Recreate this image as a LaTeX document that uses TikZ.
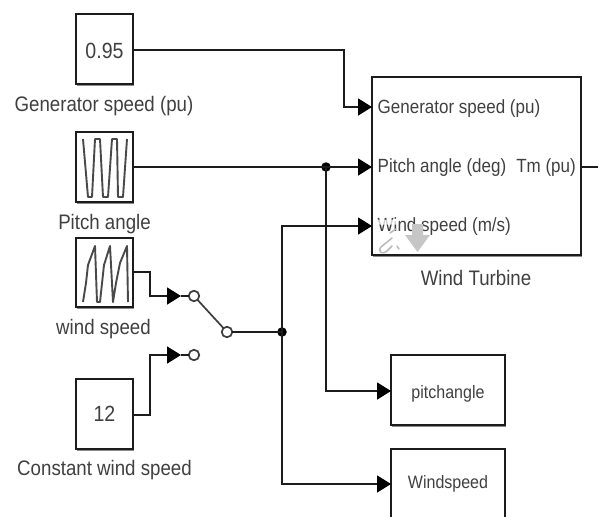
\documentclass[tikz,border=0pt]{standalone}
\usepackage{fontspec}
\setmainfont[FakeStretch=0.89]{Liberation Sans}
\usetikzlibrary{arrows.meta,shadows}
\definecolor{ink}{HTML}{1C1C1C}
\definecolor{txt}{HTML}{404040}
\tikzset{
  x=1pt,y=-1pt,
  blockbox/.style={draw=ink,line width=1.6pt,fill=white,rectangle,inner sep=0pt,outer sep=0pt,anchor=north west,text=txt,font=\fontsize{22}{24}\selectfont,
    drop shadow={shadow xshift=1pt,shadow yshift=-2pt,fill=black,opacity=0.45}},
  lab/.style={text=txt,font=\fontsize{21}{23}\selectfont,inner sep=0pt},
  port/.style={lab,font=\fontsize{19.1}{21}\selectfont,anchor=west},
  wire/.style={draw=ink,line width=1.7pt,line join=miter},
  sig/.style={wire,-{Triangle[length=14pt,width=17pt,color=black]}},
  contact/.style={circle,draw=ink!85,line width=1.7pt,fill=white,minimum size=10.5pt,inner sep=0pt,outer sep=0pt},
  junction/.style={circle,fill=black,minimum size=9.5pt,inner sep=0pt,outer sep=0pt},
  wave/.style={draw=ink!80,line width=1.9pt,line join=round}
}
\begin{document}
\begin{tikzpicture}
\useasboundingbox (0,0) rectangle (598,517);
\clip (0,0) rectangle (598,517);
\fill[white] (0,0) rectangle (598,517);
% blocks
\node[blockbox,minimum width=57pt,minimum height=70pt,text height=18.5pt] (gen) at (76,14) {0.95};
\node[blockbox,minimum width=57pt,minimum height=70pt] (pitch) at (76,132) {};
\node[blockbox,minimum width=57pt,minimum height=69pt] (wind) at (76,238) {};
\node[blockbox,minimum width=57pt,minimum height=70pt] (const) at (76,379) {12};
\node[blockbox,minimum width=209pt,minimum height=178pt] (wt) at (372,77) {};
\node[blockbox,minimum width=114pt,minimum height=70pt,font=\fontsize{18}{20}\selectfont,text height=16pt,text depth=0pt] (pa) at (391,355) {pitchangle};
\node[blockbox,minimum width=114pt,minimum height=70pt,font=\fontsize{18}{20}\selectfont] (ws) at (391,449) {Windspeed};
% labels
\node[lab] (l1) at (104,106) {Generator speed (pu)};
\node[lab] (l2) at (104.5,224) {Pitch angle};
\node[lab] (l3) at (103.5,329) {wind speed};
\node[lab] (l4) at (104.5,470) {Constant wind speed};
\node[lab] (l5) at (476,278) {Wind Turbine};
\node[port] (p1) at (377.5,108.5) {Generator speed (pu)};
\node[port] (p2) at (377.5,168) {Pitch angle (deg)};
\node[port] (p3) at (377.5,227) {Wind speed (m/s)};
\node[port,anchor=east] (p4) at (576,168) {Tm (pu)};
% wave icons
\draw[wave] (83,139)--(88,197)--(92,197)--(95,139)--(100,139)--(103,197)--(108,197)--(112,139)--(117,139)--(118,197)--(123,197)--(127,139);
\draw[wave] (83,302)--(86,283)--(88,265)--(95,246)--(97,302)--(100,302)--(104,265)--(110,246)--(113,302)--(116,283)--(120,263)--(127,246)--(128,302);
% status icons
\draw[white,line width=5pt,opacity=0.75,line cap=round] (378,222)--(396,222) (392,236)--(380,250);
\draw[gray!55,line width=1.5pt,line cap=round] (392,238)--(381,247) .. controls (377,252) and (383,255) .. (387,251)--(392,246) (390,233)--(396,229) (397,246)--(399,249);
\fill[gray!45] (412,224)--(423,224)--(423,235)--(430,235)--(417.5,252)--(405,235)--(412,235)--cycle;
% switch
\node[contact] (c1) at (194,296) {};
\node[contact] (c2) at (194,355) {};
\node[contact] (c3) at (227,332) {};
\draw[wire,draw=ink!85] (c1) -- (c3);
\node[junction] (j1) at (326,167) {};
\node[junction] (j2) at (282,332) {};
% connectors
\coordinate (w1) at (372,107);
\coordinate (w2) at (372,167);
\coordinate (w3) at (372,226);
\coordinate (pi) at (391,391);
\coordinate (wi) at (391,484);
\coordinate (sa) at (181,296);
\coordinate (sb) at (181,355);
\coordinate (out) at (598,167);
\draw[sig] (gen.east |- 0,50) -- (344,50) -- (344,107) -- (w1);
\draw[sig] (pitch.east) -- (w2);
\draw[sig] (j1.center) -- (326,391) -- (pi);
\draw[sig] (wind.east |- 0,272) -- (150,272) -- (150,296) -- (sa);
\draw[sig] (const.east) ++(0,1) -- (150,415) -- (150,355) -- (sb);
\draw[wire] (sa) -- (c1);
\draw[wire] (sb) -- (c2);
\draw[wire] (c3) -- (j2.center);
\draw[sig] (j2.center) -- (282,226) -- (w3);
\draw[sig] (j2.center) -- (282,484) -- (wi);
\draw[wire] (wt.east |- out) -- (out);
\end{tikzpicture}
\end{document}
